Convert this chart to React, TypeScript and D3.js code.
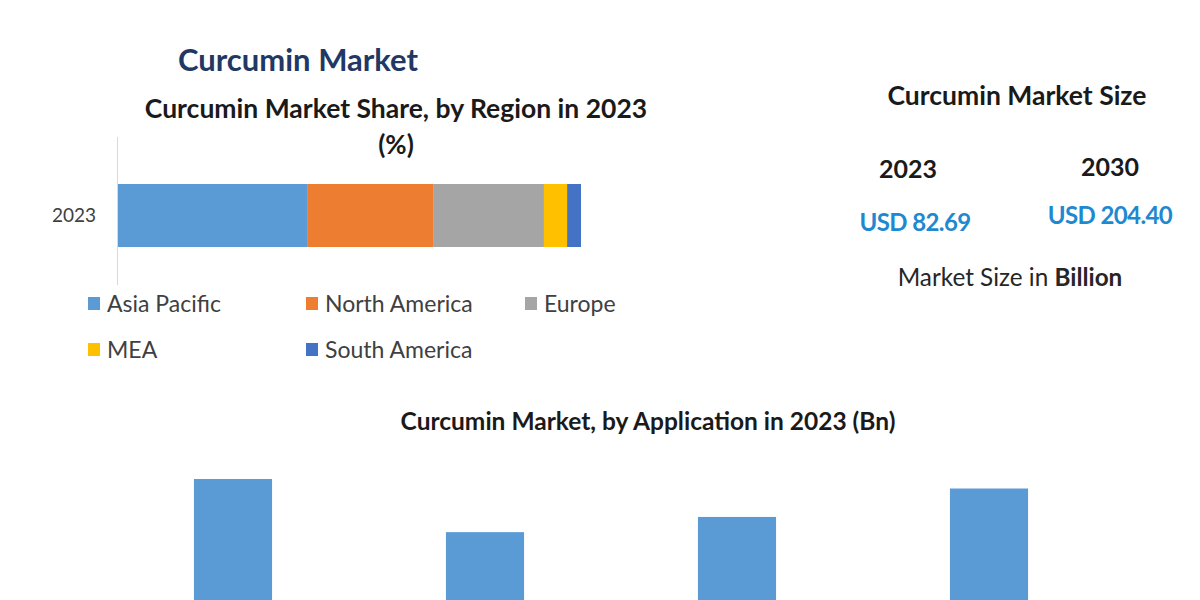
import React from "react";
import * as d3 from "d3";

const regions = ["Asia Pacific", "North America", "Europe", "MEA", "South America"];
const regionShares = [41.0, 27.2, 23.8, 5.0, 3.0];
const regionColors = ["#5b9bd5", "#ed7d31", "#a5a5a5", "#ffc000", "#4472c4"];
const shareYear = ["2023"];

const applications = ["Pharmaceutical", "Food", "Cosmetics", "Others"];
const applicationValues = [23.3, 17.7, 19.3, 22.3];

const sizeYears = ["2023", "2030"];
const sizeValues = ["USD 82.69", "USD 204.40"];

const FONT = "Lato, 'Open Sans', sans-serif";

export default function App() {
  const W = 1200, H = 600;
  // stacked bar
  const x = d3.scaleLinear().domain([0, 100]).range([118, 581]);
  const y = d3.scaleBand().domain(shareYear).range([184, 247]).padding(0);
  const stackData = [Object.fromEntries(regions.map((r, i) => [r, regionShares[i]]))];
  const series = d3.stack<any>().keys(regions)(stackData as any);

  // application bars
  const xb = d3.scaleBand().domain(applications).range([107, 1115]).paddingInner(0.69).paddingOuter(0.345);
  const yb = d3.scaleLinear().domain([0, 25]).range([700, 462.9]);

  const legendPos = [
    [88, 304], [306, 304], [525, 304], [88, 350], [306, 350],
  ];

  return (
    <svg width={W} height={H} style={{ position: "absolute", left: 0, top: 0, background: "#fff" }} fontFamily={FONT}>
      <rect x={0} y={0} width={W} height={H} fill="#fff" />
      <text x={298} y={71} textAnchor="middle" fontSize={31} fontWeight={700} fill="#1f3864">Curcumin Market</text>
      <text x={396} y={118} textAnchor="middle" fontSize={26.5} fontWeight={700} fill="#1a1a1a">Curcumin Market Share, by Region in 2023</text>
      <text x={396} y={154} textAnchor="middle" fontSize={26} fontWeight={700} fill="#1a1a1a">(%)</text>

      {/* axis line */}
      <line x1={117.5} x2={117.5} y1={137} y2={285} stroke="#d9d9d9" strokeWidth={1} />
      {shareYear.map((yr) => (
        <text key={yr} x={96} y={(y(yr) as number) + y.bandwidth() / 2 + 6} textAnchor="end" fontSize={19} fill="#404040">{yr}</text>
      ))}
      {series.map((s, i) => s.map((d, j) => (
        <rect key={regions[i] + j} x={x(d[0])} width={x(d[1]) - x(d[0])} y={y(shareYear[j]) as number} height={y.bandwidth()} fill={regionColors[i]} />
      )))}

      {regions.map((r, i) => (
        <g key={r} transform={`translate(${legendPos[i][0]},${legendPos[i][1]})`}>
          <rect x={0} y={-7} width={12} height={13} fill={regionColors[i]} />
          <text x={19} y={8} fontSize={23} fill="#404040">{r}</text>
        </g>
      ))}

      {/* Market size panel */}
      <text x={1017} y={105} textAnchor="middle" fontSize={26.5} fontWeight={700} fill="#1a1a1a">Curcumin Market Size</text>
      {sizeYears.map((yr, i) => (
        <text key={yr} x={i === 0 ? 908 : 1110} y={i === 0 ? 178 : 176} textAnchor="middle" fontSize={25} fontWeight={700} fill="#1a1a1a">{yr}</text>
      ))}
      {sizeValues.map((v, i) => (
        <text key={v} x={i === 0 ? 915 : 1110} y={i === 0 ? 231 : 224} textAnchor="middle" fontSize={24} fontWeight={700} fill="#1e88d0" letterSpacing={-0.6}>{v}</text>
      ))}
      <text x={1010} y={286} textAnchor="middle" fontSize={24.3} fill="#262626">Market Size in <tspan fontWeight={700}>Billion</tspan></text>

      {/* Application chart */}
      <text x={648} y={430} textAnchor="middle" fontSize={24.5} fontWeight={700} fill="#1a1a1a">Curcumin Market, by Application in 2023 (Bn)</text>
      {applications.map((a, i) => (
        <rect key={a} x={xb(a)} width={xb.bandwidth()} y={yb(applicationValues[i])} height={yb(0) - yb(applicationValues[i])} fill="#5b9bd5" />
      ))}
    </svg>
  );
}
